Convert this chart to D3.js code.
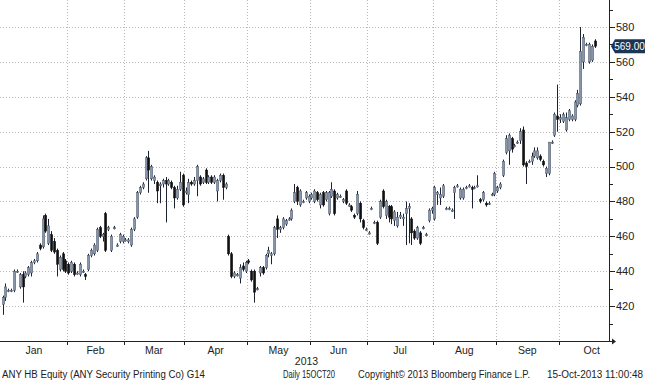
<!DOCTYPE html>
<html><head><meta charset="utf-8">
<script src="https://cdn.jsdelivr.net/npm/d3@7"></script>
<style>body{margin:0;background:#fff}svg{display:block}</style>
</head><body>
<svg id="c" width="645" height="380"></svg>
<script>
// OHLC rows per month: [open, high, low, close]
const jan = [[421,426,415,425],[425,433,423,431],[429,430,428,429],[429,430,428,429],[429,441,428,440],[440,441,439,440],[431,439,430,438],[438,440,422,431],[437,440,436,439],[438,443,437,442],[439,446,437,445],[445,447,444,446],[446,451,445,450],[455,456,452,453],[454,472,453,470],[472,473,462,463],[456,470,455,466],[461,463,451,452],[457,459,450,451],[452,453,437,444],[441,449,440,448],[450,451,440,441],[446,447,439,440]];
const feb = [[444,445,438,439],[440,446,439,445],[444,445,437,438],[439,440,438,439],[438,445,437,444],[440,441,439,440],[438,439,435,437],[441,450,440,449],[449,453,448,452],[450,456,449,455],[452,465,451,464],[465,466,459,460],[460,462,457,461],[473,474,451,452],[464,466,463,465],[452,461,451,460],[465,466,464,465],[455,456,454,455],[457,462,456,461],[457,461,456,460]];
const mar = [[458,459,457,458],[457,459,456,458],[455,465,454,464],[464,471,463,470],[471,486,470,485],[485,489,484,488],[488,491,487,490],[493,506,492,505],[505,509,485,498],[493,501,492,500],[492,495,490,494],[491,492,479,486],[489,491,479,490],[490,493,488,492],[492,494,468,490],[490,493,489,492],[491,492,487,488],[488,489,476,482],[482,489,481,487],[487,497,486,491],[495,496,477,478]];
const apr = [[485,488,484,486],[484,493,479,491],[491,492,489,490],[490,494,489,492],[492,501,483,500],[494,495,489,490],[491,494,490,493],[498,499,490,491],[491,495,490,494],[494,495,490,491],[491,495,490,494],[486,493,480,492],[492,496,491,495],[495,496,481,488],[488,491,487,490],[460,461,449,450],[450,451,436,437],[437,440,436,439],[438,439,437,438],[436,444,433,442],[443,445,440,441],[440,446,439,445]];
const may = [[446,447,444,445],[440,441,434,435],[440,441,422,428],[430,431,429,430],[439,443,437,442],[442,443,438,439],[442,450,441,449],[450,454,448,452],[449,451,444,450],[450,466,449,465],[470,472,459,464],[464,466,462,465],[465,471,464,470],[467,470,466,469],[470,471,469,470],[470,476,469,475],[480,490,479,485],[488,489,478,480],[478,487,477,486],[480,481,479,480],[482,486,481,485],[480,484,479,483]];
const jun = [[482,485,481,484],[480,487,479,486],[485,486,480,481],[478,485,476,484],[485,486,477,478],[481,486,480,485],[473,486,472,485],[483,491,482,487],[486,487,472,473],[482,485,481,484],[483,484,482,483],[480,482,479,481],[486,487,478,479],[478,479,477,478],[477,478,474,475],[472,473,470,471],[473,486,472,484],[479,480,468,470],[469,470,464,465],[464,465,463,464]];
const jul = [[462,463,461,462],[476,477,475,476],[468,469,467,468],[468,469,455,456],[471,481,470,480],[486,487,476,477],[472,481,470,480],[477,478,468,471],[477,478,467,470],[469,475,466,474],[466,474,465,471],[471,474,470,472],[470,473,466,471],[473,480,455,476],[476,479,456,477],[470,471,455,462],[463,464,458,459],[459,466,458,465],[462,463,455,456],[465,466,464,465],[461,462,460,461],[469,476,468,475],[475,477,473,476]];
const aug = [[470,489,469,488],[484,486,478,485],[482,488,478,484],[483,490,482,489],[476,477,475,476],[476,477,475,476],[475,476,474,475],[485,489,470,488],[489,490,488,489],[482,488,481,487],[482,488,481,487],[488,489,487,488],[489,490,488,489],[488,489,476,487],[488,489,487,488],[489,495,488,489],[481,482,479,480],[481,486,480,485],[479,480,477,478],[479,480,478,479],[484,485,483,484],[484,497,483,496]];
const sep = [[486,489,485,488],[488,491,487,490],[495,504,494,503],[508,518,507,516],[509,519,501,518],[516,517,508,510],[512,513,511,512],[514,515,513,514],[515,522,513,520],[521,523,500,501],[502,503,490,500],[503,504,502,503],[503,508,501,506],[506,511,505,509],[505,511,504,509],[506,507,503,504],[503,504,500,501],[496,500,494,499],[496,514,495,514],[514,515,513,514],[518,531,517,530],[529,547,520,527]];
const oct = [[527,530,525,528],[526,531,525,530],[521,531,520,528],[527,533,526,532],[527,530,526,529],[527,538,526,537],[535,544,534,542],[536,580,535,566],[560,576,556,574],[570,571,569,570],[560,571,559,570],[561,570,560,569],[572,573,568,569]];

const monthLabels = ["Jan","Feb","Mar","Apr","May","Jun","Jul","Aug","Sep","Oct"];
const monthStart = [0,23,43,64,86,108,128,151,173,195,218]; // bar index where each month begins (Oct end projected)
const yTicks = [420,440,460,480,500,520,540,560,580];
const lastPrice = 569.00;
const yearLabel = "2013";
const footerTexts = ["ANY HB Equity (ANY Security Printing Co) G14","Daily 15OCT20","Copyright\u00A9 2013 Bloomberg Finance L.P.","15-Oct-2013 11:00:48"];

const bars = [].concat(jan,feb,mar,apr,may,jun,jul,aug,sep,oct)
  .map((r,i)=>({i, o:r[0], h:r[1], l:r[2], c:r[3]}));

const svg = d3.select("#c");
const axisX = 609, baseY = 341;
const x = d3.scaleLinear().domain([0,207]).range([2.5, 2.5+2.86*207]);
const y = d3.scaleLinear().domain([400, 595.5]).range([baseY, 0]);
const FONT = "Liberation Sans, Arial, sans-serif";

// grid
const g = svg.append("g");
g.selectAll("line.hg").data(yTicks).join("line")
  .attr("x1",0).attr("x2",axisX).attr("y1",d=>Math.round(y(d))+0.5).attr("y2",d=>Math.round(y(d))+0.5)
  .attr("stroke","#b8b8b8").attr("stroke-dasharray","1,2");
g.selectAll("line.vg").data(monthStart.slice(1,10)).join("line")
  .attr("x1",d=>Math.round(x(d-0.5))+0.5).attr("x2",d=>Math.round(x(d-0.5))+0.5).attr("y1",0).attr("y2",baseY)
  .attr("stroke","#b8b8b8").attr("stroke-dasharray","1,2");

// candles
const cg = svg.append("g");
cg.selectAll("line.w").data(bars).join("line")
  .attr("x1",d=>Math.round(x(d.i))+0.5).attr("x2",d=>Math.round(x(d.i))+0.5)
  .attr("y1",d=>y(d.h)).attr("y2",d=>y(d.l))
  .attr("stroke","#1c2230").attr("stroke-width",1);
cg.selectAll("rect").data(bars).join("rect")
  .attr("x",d=>Math.round(x(d.i))-0.5)
  .attr("width",2.2)
  .attr("y",d=>y(Math.max(d.o,d.c)))
  .attr("height",d=>Math.max(1.2, Math.abs(y(d.o)-y(d.c))))
  .attr("fill",d=>d.c>=d.o ? "#8896ab" : "#101010")
  .attr("stroke",d=>d.c>=d.o ? "#4a5467" : "#101010")
  .attr("stroke-width",0.5);

// right axis
const ax = svg.append("g");
ax.append("line").attr("x1",axisX+0.5).attr("x2",axisX+0.5).attr("y1",0).attr("y2",baseY+1).attr("stroke","#222");
const minor = d3.range(410, 595, 10);
ax.selectAll("line.t").data(minor).join("line")
  .attr("x1",axisX).attr("x2",d=>axisX + (d%20===0?6:4))
  .attr("y1",d=>Math.round(y(d))+0.5).attr("y2",d=>Math.round(y(d))+0.5)
  .attr("stroke","#222");
ax.selectAll("text").data(yTicks).join("text")
  .attr("x",axisX+7).attr("y",d=>y(d)).attr("dy","0.35em")
  .attr("font-family",FONT).attr("font-size",11).attr("fill","#222")
  .text(d=>d);

// bottom axis
svg.append("line").attr("x1",0).attr("x2",axisX+4).attr("y1",baseY+0.5).attr("y2",baseY+0.5).attr("stroke","#222");
svg.append("path").attr("d",`M${axisX+3},${baseY-2.5}L${axisX+7},${baseY+0.5}L${axisX+3},${baseY+3.5}Z`).attr("fill","#222");
svg.selectAll("line.xt").data(monthStart.slice(1,10)).join("line")
  .attr("x1",d=>Math.round(x(d-0.5))+0.5).attr("x2",d=>Math.round(x(d-0.5))+0.5)
  .attr("y1",baseY).attr("y2",baseY+4).attr("stroke","#222");
svg.selectAll("text.ml").data(monthLabels).join("text")
  .attr("x",(d,k)=>x((monthStart[k]+monthStart[k+1]-1)/2)).attr("y",354)
  .attr("text-anchor","middle").attr("font-family",FONT).attr("font-size",10.5).attr("fill","#222")
  .text(d=>d);
svg.append("text").attr("x",x((monthStart[4]+monthStart[5]-1)/2)+28).attr("y",364.5)
  .attr("text-anchor","middle").attr("font-family",FONT).attr("font-size",10.5).attr("fill","#222").text(yearLabel);

// footer
const fpos = [[2,203],[283,52],[358,172],[547,96]];
svg.selectAll("text.ft").data(footerTexts).join("text")
  .attr("x",(d,k)=>fpos[k][0]).attr("y",377.5)
  .attr("textLength",(d,k)=>fpos[k][1]).attr("lengthAdjust","spacingAndGlyphs")
  .attr("font-family",FONT).attr("font-size",10).attr("fill","#222")
  .text(d=>d);

// last price tag
const ly = y(lastPrice);
svg.append("path").attr("d",`M${axisX+2},${ly}L${axisX+6},${ly-7}L645,${ly-7}L645,${ly+7}L${axisX+6},${ly+7}Z`).attr("fill","#1d3554");
svg.append("text").attr("x",629.5).attr("y",ly).attr("dy","0.36em").attr("text-anchor","middle")
  .attr("font-family",FONT).attr("font-size",10).attr("fill","#fff").text(lastPrice.toFixed(2));
</script>
</body></html>
